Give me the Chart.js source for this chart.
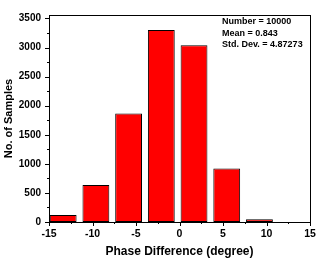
<!DOCTYPE html>
<html>
<head>
<meta charset="utf-8">
<script src="https://cdn.jsdelivr.net/npm/chart.js@4"></script>
<style>
  html, body { margin: 0; padding: 0; background: #fff; }
  #wrap { width: 327px; height: 262px; }
</style>
</head>
<body>
<div id="wrap"><canvas id="histChart" width="327" height="262"></canvas></div>
<script>
// histogram bins
const binCenters = [-13.37, -9.61, -5.85, -2.09, 1.67, 5.43, 9.19];
const sampleCounts = [120, 636, 1868, 3300, 3040, 922, 46];
const xTicks = [-15, -10, -5, 0, 5, 10, 15];
const yTicks = [0, 500, 1000, 1500, 2000, 2500, 3000, 3500];
const statLines = ["Number = 10000", "Mean = 0.843", "Std. Dev. = 4.87273"];

const FONT = "'Liberation Sans', Arial, sans-serif";

// frame, tick marks (major + minor) and the stats text
const framePlugin = {
    id: 'frame',
    afterDraw(chart) {
        const ctx = chart.ctx;
        const a = chart.chartArea;
        const xs = chart.scales.x, ys = chart.scales.y;
        ctx.save();
        ctx.strokeStyle = '#000';
        ctx.lineWidth = 1;
        ctx.strokeRect(Math.round(a.left) + 0.5, Math.round(a.top) + 0.5,
                       Math.round(a.right - a.left), Math.round(a.bottom - a.top));

        ctx.beginPath();
        // x ticks, minor every 2.5
        for (let v = -15; v <= 15; v += 2.5) {
            const px = Math.round(xs.getPixelForValue(v)) + 0.5;
            const len = (v % 5 === 0) ? 4 : 2;
            ctx.moveTo(px, a.bottom);
            ctx.lineTo(px, a.bottom + len);
        }
        // y ticks, minor every 250
        for (let v = 0; v <= 3500; v += 250) {
            const py = Math.round(ys.getPixelForValue(v)) + 0.5;
            const len = (v % 500 === 0) ? 4 : 2;
            ctx.moveTo(a.left, py);
            ctx.lineTo(a.left - len, py);
        }
        ctx.stroke();

        ctx.fillStyle = '#000';
        ctx.font = 'bold 9px ' + FONT;
        ctx.textBaseline = 'middle';
        ctx.textAlign = 'left';
        statLines.forEach((t, i) => {
            ctx.fillText(t, 222, 22 + i * 11.3);
        });
        ctx.restore();
    }
};

const ctx = document.getElementById('histChart').getContext('2d');
const histChart = new Chart(ctx, {
    type: 'bar',
    data: {
        datasets: [{
            label: 'Samples',
            data: binCenters.map((c, i) => ({ x: c, y: sampleCounts[i] })),
            backgroundColor: '#ff0000',
            borderColor: '#000000',
            borderWidth: 1,
            borderSkipped: false,
            barPercentage: 0.82,
            categoryPercentage: 1.0
        }]
    },
    options: {
        responsive: false,
        animation: false,
        layout: { padding: { left: 2, right: 17, top: 15, bottom: 0 } },
        plugins: {
            legend: { display: false },
            tooltip: { enabled: false }
        },
        scales: {
            x: {
                type: 'linear',
                offset: false,
                min: -15,
                max: 15,
                afterBuildTicks: s => { s.ticks = xTicks.map(v => ({ value: v })); },
                afterFit: s => { s.height = 40; },
                grid: { display: false, drawTicks: false, offset: false },
                border: { display: false },
                ticks: {
                    color: '#000',
                    padding: 6,
                    maxRotation: 0,
                    font: { family: FONT, size: 10.5, weight: 'bold' }
                },
                title: {
                    display: true,
                    text: 'Phase Difference (degree)',
                    color: '#000',
                    padding: { top: 0, bottom: 3 },
                    font: { family: FONT, size: 12, weight: 'bold' }
                }
            },
            y: {
                min: 0,
                max: 3560,
                afterBuildTicks: s => { s.ticks = yTicks.map(v => ({ value: v })); },
                afterFit: s => { s.width = 47; },
                grid: { display: false, drawTicks: false },
                border: { display: false },
                ticks: {
                    color: '#000',
                    padding: 8,
                    callback: v => String(v),
                    font: { family: FONT, size: 10, weight: 'bold' }
                },
                title: {
                    display: true,
                    text: 'No. of Samples',
                    color: '#000',
                    padding: 0,
                    font: { family: FONT, size: 11, weight: 'bold' }
                }
            }
        }
    },
    plugins: [framePlugin]
});
</script>
</body>
</html>
